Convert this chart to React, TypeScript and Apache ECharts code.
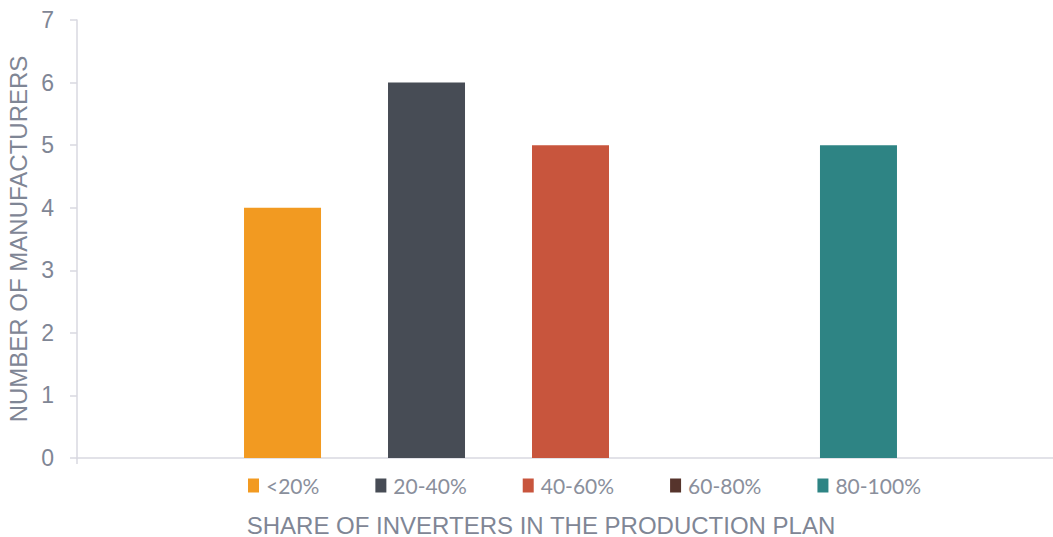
import React, { useEffect, useRef } from "react";
import * as echarts from "echarts";

const seriesNames = ["<20%", "20-40%", "40-60%", "60-80%", "80-100%"];
const seriesValues = [4, 6, 5, 0, 5];
const seriesColors = ["#F29A21", "#474C55", "#C8553D", "#56342C", "#2E8484"];
const yTicks = [0, 1, 2, 3, 4, 5, 6, 7];
const yAxisTitle = "NUMBER OF MANUFACTURERS";
const xAxisTitle = "SHARE OF INVERTERS IN THE PRODUCTION PLAN";

export default function App() {
  const ref = useRef<HTMLDivElement>(null);
  useEffect(() => {
    const chart = echarts.init(ref.current!, null, { renderer: "svg" });
    chart.setOption({
      animation: false,
      grid: { left: 77, top: 20, bottom: 79, right: -11, containLabel: false, outerBoundsMode: "none" },
      legend: {
        data: seriesNames,
        left: 243,
        top: 470,
        itemWidth: 11,
        itemHeight: 14,
        itemGap: 56,
        icon: "rect",
        textStyle: { fontFamily: "Lato", fontSize: 21, color: "#8a8f9c", padding: [0, 0, 0, 2] },
      },
      xAxis: {
        type: "category",
        data: [""],
        axisLine: { lineStyle: { color: "#d9d9e1", width: 1.5 } },
        axisTick: { show: true, length: 6, lineStyle: { color: "#d9d9e1", width: 1.5 } },
        axisLabel: { show: false },
      },
      yAxis: {
        type: "value",
        min: 0,
        max: yTicks[yTicks.length - 1],
        interval: 1,
        name: yAxisTitle,
        nameLocation: "middle",
        nameGap: 45,
        nameTextStyle: { fontFamily: "Liberation Sans", fontSize: 24, color: "#7f8695" },
        axisLine: { show: true, lineStyle: { color: "#d9d9e1", width: 1.5 } },
        axisTick: { show: true, length: 7, lineStyle: { color: "#d9d9e1", width: 1.5 } },
        splitLine: { show: false },
        axisLabel: { fontFamily: "Liberation Sans", fontSize: 23, color: "#7f8695", margin: 23 },
      },
      graphic: [
        {
          type: "text",
          x: 541,
          y: 525,
          style: {
            text: xAxisTitle,
            fontFamily: "Liberation Sans",
            fontSize: 24,
            fill: "#7f8695",
            align: "center",
            verticalAlign: "middle",
          },
        },
      ],
      series: seriesNames.map((n, i) => ({
        name: n,
        type: "bar",
        data: [seriesValues[i]],
        barWidth: 77,
        barGap: "87%",
        itemStyle: { color: seriesColors[i] },
      })),
    });
    return () => chart.dispose();
  }, []);
  return <div ref={ref} style={{ width: 1053, height: 537, position: "absolute", left: 0, top: 0 }} />;
}
